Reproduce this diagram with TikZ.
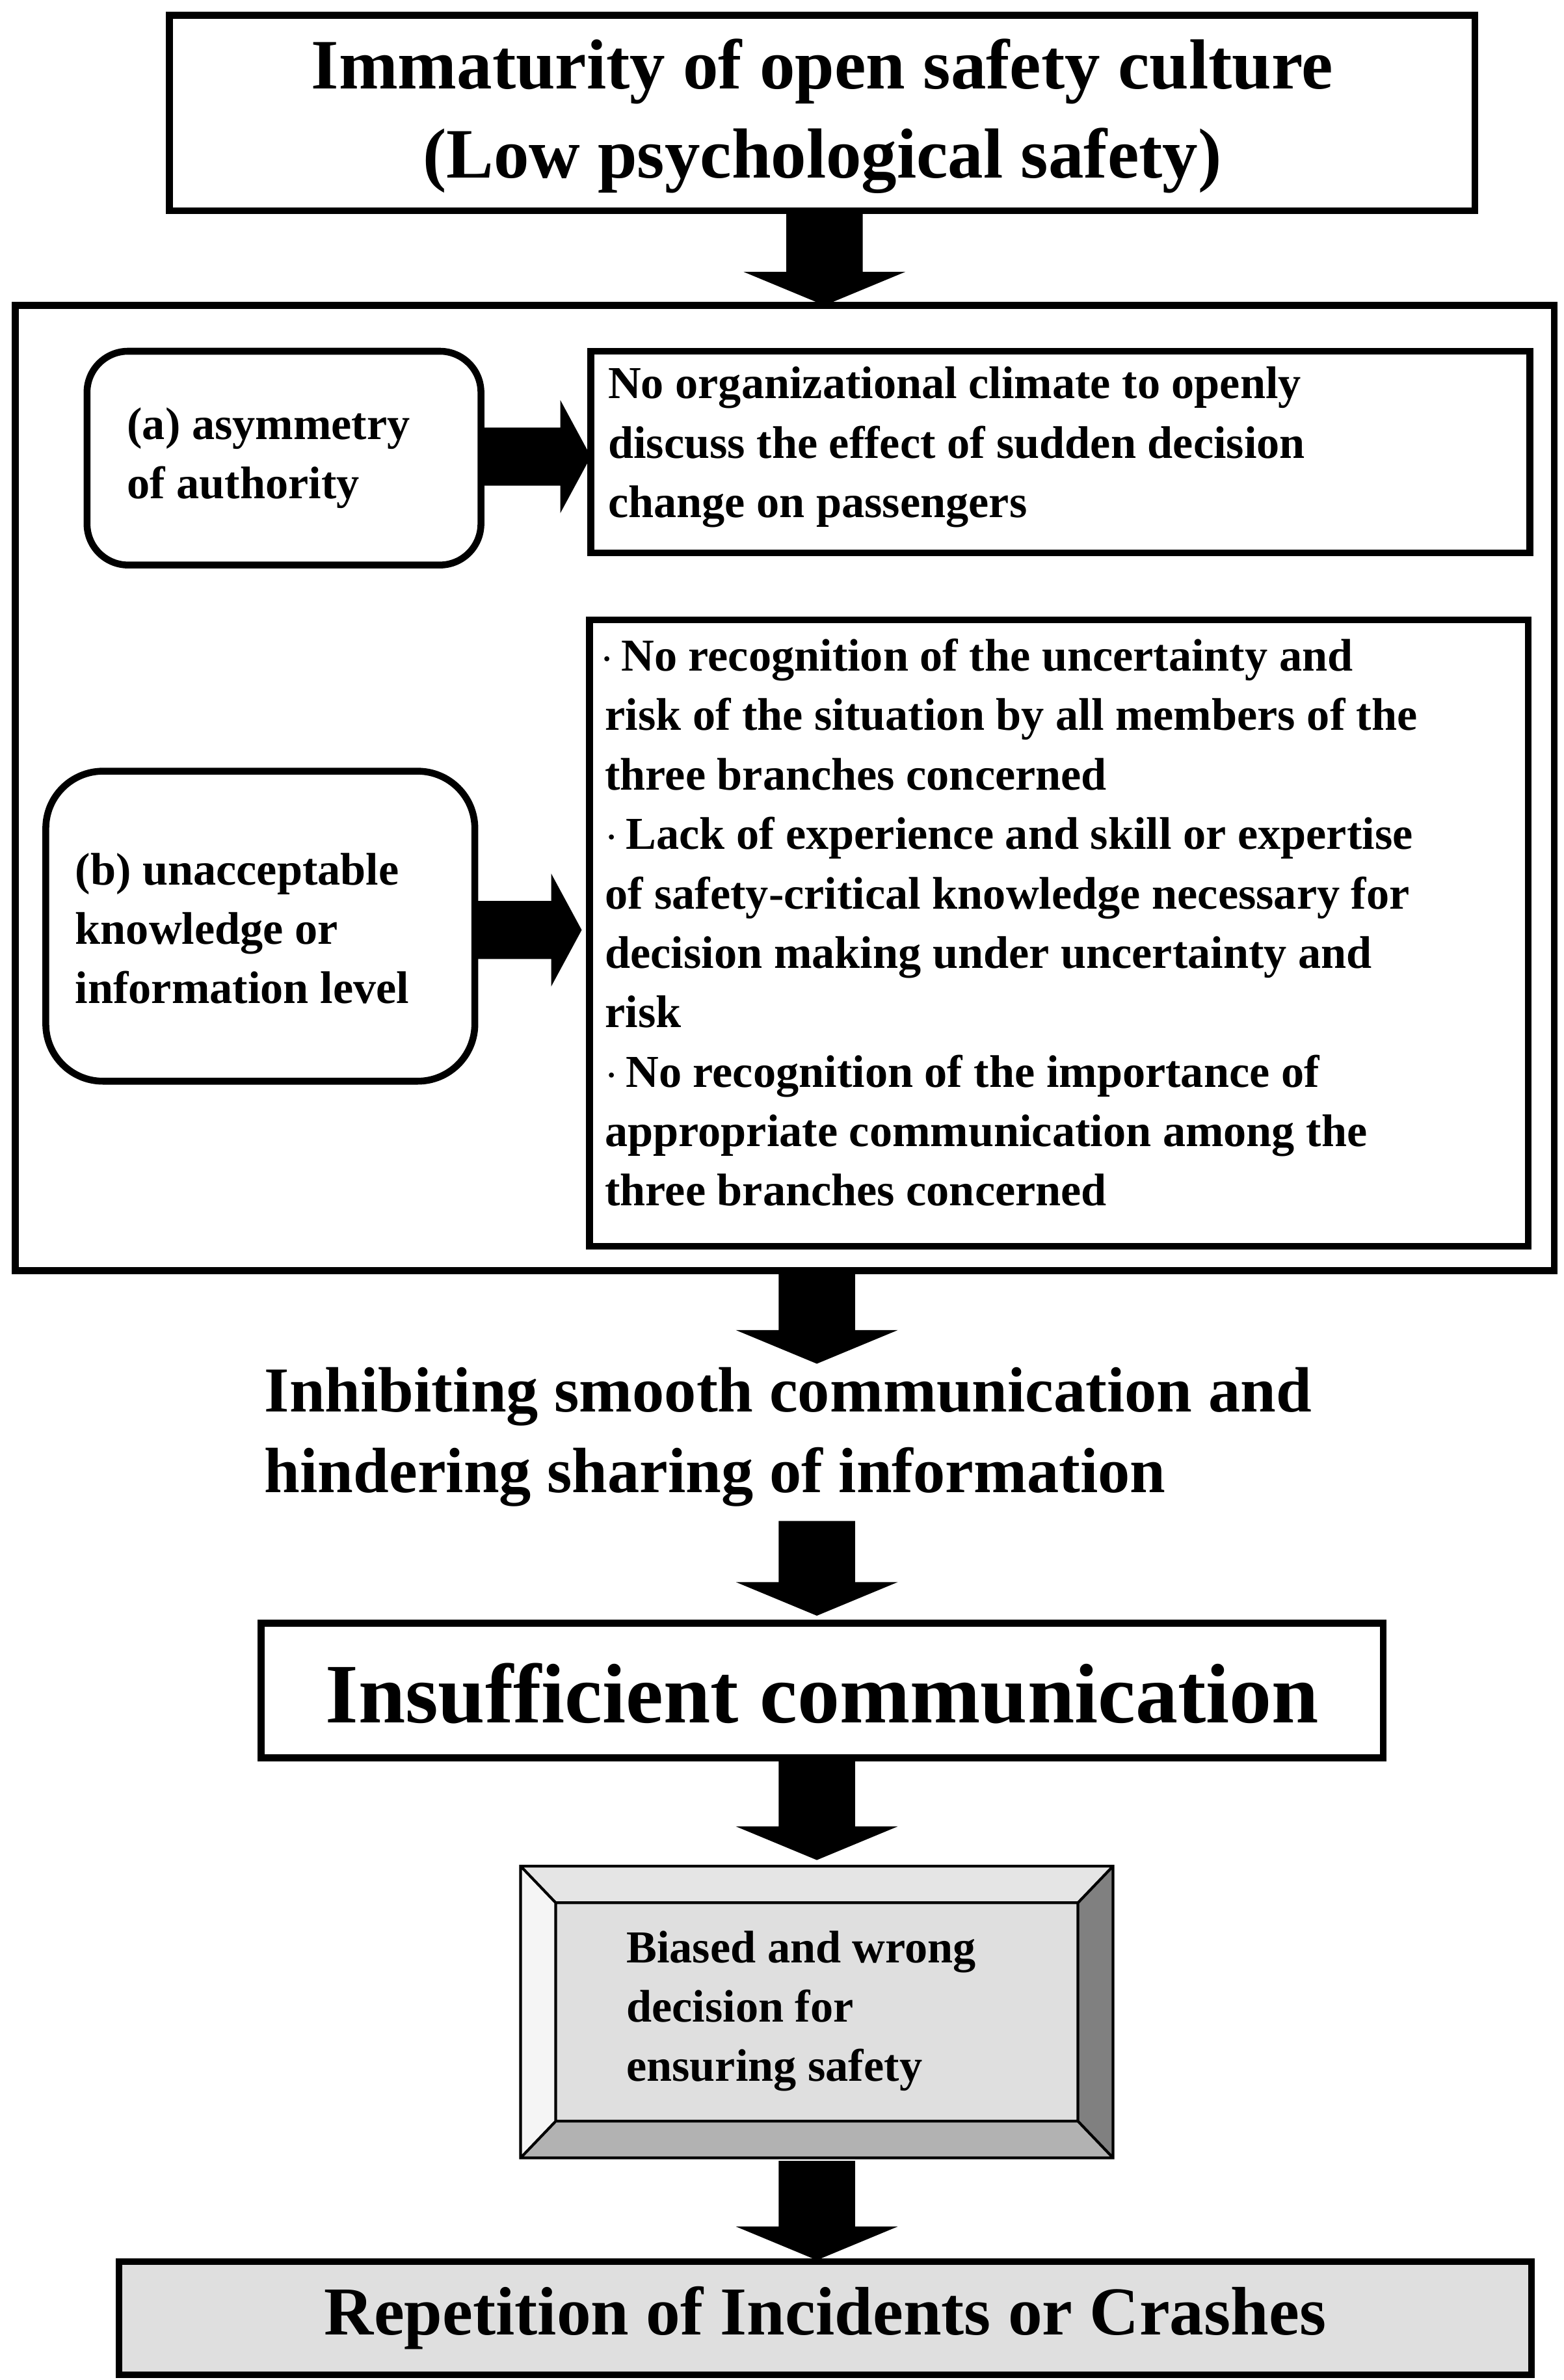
\documentclass[tikz,border=0pt]{standalone}
\usepackage{fontspec}
\setmainfont{Liberation Serif}
\begin{document}
\begin{tikzpicture}[x=0.02348cm,y=-0.02348cm,
 bx/.style={draw,line width=3pt},
 small/.style={font=\bfseries\fontsize{20}{26}\selectfont,align=left,inner sep=0},
 ar/.style={fill=black}]
\useasboundingbox (0,0) rectangle (1024,1558.5);
\newcommand\dar[3]{\fill (#1-25,#2) -- (#1+25,#2) -- (#1+25,#3-22) -- (#1+53,#3-22) -- (#1,#3) -- (#1-53,#3-22) -- (#1-25,#3-22) -- cycle;}
\newcommand\rar[4]{\fill (#1,#3-19) -- (#2-20,#3-19) -- (#2-20,#3-#4) -- (#2,#3) -- (#2-20,#3+#4) -- (#2-20,#3+19) -- (#1,#3+19) -- cycle;}
% top
\draw[bx] (111,10) rectangle (966,138);
\node[font=\bfseries\fontsize{31}{39}\selectfont,align=center] (top) at (538.5,76) {Immaturity of open safety culture\\(Low psychological safety)};
\dar{540}{140}{200}
\draw[bx] (10,200) rectangle (1018,832);
% (a)
\draw[bx,rounded corners=18] (57,230) rectangle (315,370);
\node[small,anchor=west] (a) at (83,300) {(a) asymmetry\\of authority};
\rar{315}{387}{299}{37}
\draw[bx] (387,230) rectangle (1002,362);
\node[small,anchor=north west] (at) at (398,240) {No organizational climate to openly\\discuss the effect of sudden decision\\change on passengers};
% (b)
\draw[bx,rounded corners=25] (30,505) rectangle (311,708);
\node[small,anchor=west] (b) at (49,608) {(b) unacceptable\\knowledge or\\information level};
\rar{311}{381}{609}{37}
\draw[bx] (386,406) rectangle (1001,816);
\node[small,anchor=north west] (bt) at (396,418) {\hspace{-0.1em}$\cdot$\,No recognition of the uncertainty and\\risk of the situation by all members of the\\three branches concerned\\$\cdot$\,Lack of experience and skill or expertise\\of safety-critical knowledge necessary for\\decision making under uncertainty and\\risk\\$\cdot$\,No recognition of the importance of\\appropriate communication among the\\three branches concerned};
\dar{535}{834}{893}
\node[font=\bfseries\fontsize{28}{35.5}\selectfont,align=left,anchor=north west,inner sep=0] (inh) at (173,895) {Inhibiting smooth communication and\\hindering sharing of information};
\dar{535}{996}{1058}
\draw[bx] (171,1063) rectangle (906,1151);
\node[font=\bfseries\fontsize{37}{44}\selectfont] (ins) at (538.5,1109) {Insufficient communication};
\dar{535}{1153}{1218}
% bevel
\fill[gray!15] (341,1222) rectangle (729,1413);
\fill[gray!20] (341,1222) -- (729,1222) -- (706,1246) -- (364,1246) -- cycle;
\fill[gray!8] (341,1222) -- (364,1246) -- (364,1389) -- (341,1413) -- cycle;
\fill[gray!100] (729,1222) -- (706,1246) -- (706,1389) -- (729,1413) -- cycle;
\fill[gray!60] (341,1413) -- (364,1389) -- (706,1389) -- (729,1413) -- cycle;
\fill[gray!25] (364,1246) rectangle (706,1389);
\draw[line width=1.2pt] (341,1222) rectangle (729,1413) (364,1246) rectangle (706,1389)
 (341,1222) -- (364,1246) (729,1222) -- (706,1246) (341,1413) -- (364,1389) (729,1413) -- (706,1389);
\node[small,anchor=north west] (bias) at (410,1264) {Biased and wrong\\decision for\\ensuring safety};
\dar{535}{1415}{1480}
\draw[bx,fill=gray!25] (78,1481) rectangle (1003,1555);
\node[font=\bfseries\fontsize{30}{36}\selectfont] (rep) at (540.5,1518) {Repetition of Incidents or Crashes};
\end{tikzpicture}
\end{document}
